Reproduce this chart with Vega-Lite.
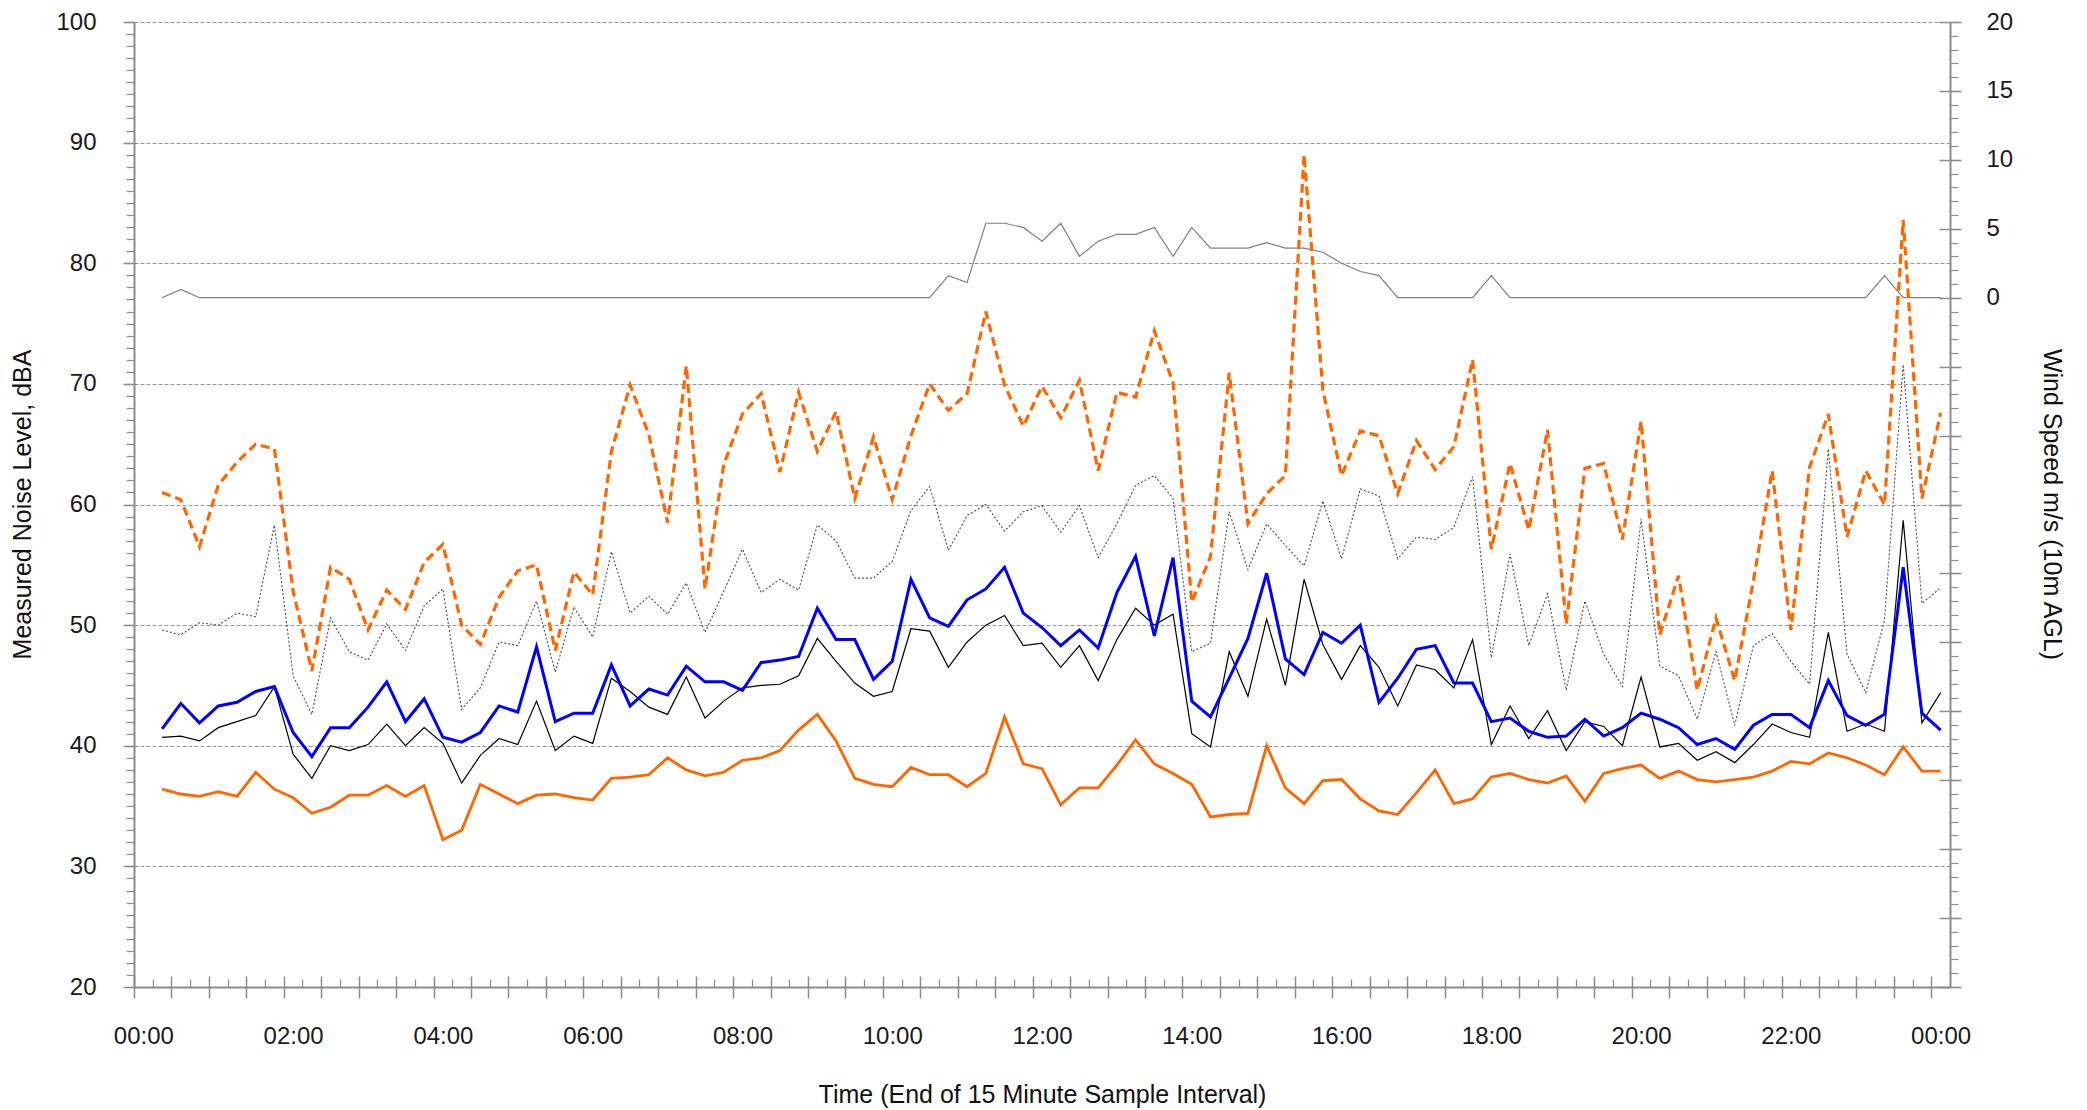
{
  "$schema": "https://vega.github.io/schema/vega-lite/v6.json",
  "autosize": {"type": "none"},
  "width": 1816,
  "height": 965,
  "padding": {"left": 134, "top": 22, "right": 137, "bottom": 123},
  "background": "white",
  "config": {
    "view": {"stroke": null},
    "axis": {"labelFont": "Liberation Sans", "labelFontSize": 24, "labelColor": "#1a1a1a", "titleFont": "Liberation Sans", "titleFontSize": 25, "titleFontWeight": "normal", "titleColor": "#111", "tickColor": "#8c8c8c", "tickWidth": 1.5, "domainColor": "#8c8c8c", "domainWidth": 2}
  },
  "datasets": {
    "d": [
      {"t":15,"LAmax":61.0,"LA1":49.6,"LAeq":41.4,"LA10":40.7,"LA90":36.4,"wind":0},
      {"t":30,"LAmax":60.4,"LA1":49.2,"LAeq":43.5,"LA10":40.8,"LA90":36.0,"wind":0.6},
      {"t":45,"LAmax":56.5,"LA1":50.2,"LAeq":41.9,"LA10":40.4,"LA90":35.8,"wind":0},
      {"t":60,"LAmax":61.6,"LA1":50.0,"LAeq":43.3,"LA10":41.5,"LA90":36.2,"wind":0},
      {"t":75,"LAmax":63.5,"LA1":51.0,"LAeq":43.6,"LA10":42.0,"LA90":35.8,"wind":0},
      {"t":90,"LAmax":65.0,"LA1":50.7,"LAeq":44.5,"LA10":42.5,"LA90":37.8,"wind":0},
      {"t":105,"LAmax":64.6,"LA1":58.3,"LAeq":44.9,"LA10":44.9,"LA90":36.4,"wind":0},
      {"t":120,"LAmax":52.8,"LA1":45.8,"LAeq":41.1,"LA10":39.3,"LA90":35.7,"wind":0},
      {"t":135,"LAmax":46.2,"LA1":42.6,"LAeq":39.1,"LA10":37.3,"LA90":34.4,"wind":0},
      {"t":150,"LAmax":54.8,"LA1":50.6,"LAeq":41.5,"LA10":40.0,"LA90":34.9,"wind":0},
      {"t":165,"LAmax":53.8,"LA1":47.8,"LAeq":41.5,"LA10":39.6,"LA90":35.9,"wind":0},
      {"t":180,"LAmax":49.6,"LA1":47.1,"LAeq":43.2,"LA10":40.1,"LA90":35.9,"wind":0},
      {"t":195,"LAmax":52.9,"LA1":50.1,"LAeq":45.3,"LA10":41.8,"LA90":36.7,"wind":0},
      {"t":210,"LAmax":51.3,"LA1":47.9,"LAeq":42.0,"LA10":40.0,"LA90":35.8,"wind":0},
      {"t":225,"LAmax":55.2,"LA1":51.6,"LAeq":43.9,"LA10":41.5,"LA90":36.7,"wind":0},
      {"t":240,"LAmax":56.7,"LA1":53.0,"LAeq":40.7,"LA10":40.2,"LA90":32.2,"wind":0},
      {"t":255,"LAmax":50.0,"LA1":43.0,"LAeq":40.3,"LA10":36.9,"LA90":33.0,"wind":0},
      {"t":270,"LAmax":48.4,"LA1":44.8,"LAeq":41.1,"LA10":39.2,"LA90":36.8,"wind":0},
      {"t":285,"LAmax":52.3,"LA1":48.6,"LAeq":43.3,"LA10":40.6,"LA90":36.0,"wind":0},
      {"t":300,"LAmax":54.5,"LA1":48.3,"LAeq":42.8,"LA10":40.1,"LA90":35.2,"wind":0},
      {"t":315,"LAmax":55.0,"LA1":52.0,"LAeq":48.2,"LA10":43.7,"LA90":35.9,"wind":0},
      {"t":330,"LAmax":47.9,"LA1":46.1,"LAeq":42.0,"LA10":39.6,"LA90":36.0,"wind":0},
      {"t":345,"LAmax":54.4,"LA1":51.5,"LAeq":42.7,"LA10":40.8,"LA90":35.7,"wind":0},
      {"t":360,"LAmax":52.5,"LA1":49.0,"LAeq":42.7,"LA10":40.2,"LA90":35.5,"wind":0},
      {"t":375,"LAmax":64.4,"LA1":56.1,"LAeq":46.7,"LA10":45.6,"LA90":37.3,"wind":0},
      {"t":390,"LAmax":69.9,"LA1":51.0,"LAeq":43.3,"LA10":44.5,"LA90":37.4,"wind":0},
      {"t":405,"LAmax":65.8,"LA1":52.4,"LAeq":44.7,"LA10":43.2,"LA90":37.6,"wind":0},
      {"t":420,"LAmax":58.5,"LA1":50.9,"LAeq":44.2,"LA10":42.6,"LA90":39.0,"wind":0},
      {"t":435,"LAmax":71.5,"LA1":53.5,"LAeq":46.6,"LA10":45.7,"LA90":38.0,"wind":0},
      {"t":450,"LAmax":53.0,"LA1":49.4,"LAeq":45.3,"LA10":42.3,"LA90":37.5,"wind":0},
      {"t":465,"LAmax":63.3,"LA1":52.8,"LAeq":45.3,"LA10":43.7,"LA90":37.8,"wind":0},
      {"t":480,"LAmax":67.5,"LA1":56.3,"LAeq":44.6,"LA10":44.8,"LA90":38.8,"wind":0},
      {"t":495,"LAmax":69.2,"LA1":52.7,"LAeq":46.9,"LA10":45.0,"LA90":39.0,"wind":0},
      {"t":510,"LAmax":62.7,"LA1":53.8,"LAeq":47.1,"LA10":45.1,"LA90":39.6,"wind":0},
      {"t":525,"LAmax":69.3,"LA1":52.9,"LAeq":47.4,"LA10":45.8,"LA90":41.3,"wind":0},
      {"t":540,"LAmax":64.4,"LA1":58.3,"LAeq":51.4,"LA10":48.9,"LA90":42.6,"wind":0},
      {"t":555,"LAmax":67.7,"LA1":57.0,"LAeq":48.8,"LA10":47.0,"LA90":40.4,"wind":0},
      {"t":570,"LAmax":60.5,"LA1":53.9,"LAeq":48.8,"LA10":45.2,"LA90":37.3,"wind":0},
      {"t":585,"LAmax":65.6,"LA1":53.9,"LAeq":45.5,"LA10":44.1,"LA90":36.8,"wind":0},
      {"t":600,"LAmax":60.4,"LA1":55.3,"LAeq":47.0,"LA10":44.5,"LA90":36.6,"wind":0},
      {"t":615,"LAmax":65.7,"LA1":59.5,"LAeq":53.8,"LA10":49.7,"LA90":38.2,"wind":0},
      {"t":630,"LAmax":70.0,"LA1":61.5,"LAeq":50.6,"LA10":49.5,"LA90":37.6,"wind":0},
      {"t":645,"LAmax":67.8,"LA1":56.2,"LAeq":49.9,"LA10":46.5,"LA90":37.6,"wind":1.6},
      {"t":660,"LAmax":69.2,"LA1":59.1,"LAeq":52.1,"LA10":48.6,"LA90":36.6,"wind":1.1},
      {"t":675,"LAmax":76.0,"LA1":60.0,"LAeq":53.0,"LA10":50.0,"LA90":37.7,"wind":5.4},
      {"t":690,"LAmax":69.9,"LA1":57.8,"LAeq":54.8,"LA10":50.8,"LA90":42.4,"wind":5.4},
      {"t":705,"LAmax":66.5,"LA1":59.4,"LAeq":51.0,"LA10":48.3,"LA90":38.5,"wind":5.1},
      {"t":720,"LAmax":69.8,"LA1":59.9,"LAeq":49.8,"LA10":48.5,"LA90":38.1,"wind":4.1},
      {"t":735,"LAmax":67.2,"LA1":57.7,"LAeq":48.3,"LA10":46.5,"LA90":35.1,"wind":5.4},
      {"t":750,"LAmax":70.3,"LA1":59.9,"LAeq":49.6,"LA10":48.3,"LA90":36.5,"wind":3.0},
      {"t":765,"LAmax":62.8,"LA1":55.6,"LAeq":48.1,"LA10":45.4,"LA90":36.5,"wind":4.1},
      {"t":780,"LAmax":69.3,"LA1":58.4,"LAeq":52.7,"LA10":48.8,"LA90":38.4,"wind":4.6},
      {"t":795,"LAmax":68.9,"LA1":61.6,"LAeq":55.7,"LA10":51.4,"LA90":40.5,"wind":4.6},
      {"t":810,"LAmax":74.4,"LA1":62.4,"LAeq":49.1,"LA10":50.0,"LA90":38.5,"wind":5.1},
      {"t":825,"LAmax":70.1,"LA1":60.5,"LAeq":55.6,"LA10":50.9,"LA90":37.7,"wind":3.0},
      {"t":840,"LAmax":51.9,"LA1":47.8,"LAeq":43.7,"LA10":41.0,"LA90":36.8,"wind":5.1},
      {"t":855,"LAmax":55.7,"LA1":48.5,"LAeq":42.4,"LA10":39.9,"LA90":34.1,"wind":3.6},
      {"t":870,"LAmax":70.9,"LA1":59.4,"LAeq":45.6,"LA10":47.8,"LA90":34.3,"wind":3.6},
      {"t":885,"LAmax":58.4,"LA1":54.6,"LAeq":48.9,"LA10":44.1,"LA90":34.4,"wind":3.6},
      {"t":900,"LAmax":60.9,"LA1":58.4,"LAeq":54.3,"LA10":50.5,"LA90":40.0,"wind":4.0},
      {"t":915,"LAmax":62.4,"LA1":56.6,"LAeq":47.2,"LA10":45.0,"LA90":36.5,"wind":3.6},
      {"t":930,"LAmax":89.0,"LA1":54.9,"LAeq":45.9,"LA10":53.8,"LA90":35.2,"wind":3.6},
      {"t":945,"LAmax":69.5,"LA1":60.3,"LAeq":49.4,"LA10":48.4,"LA90":37.1,"wind":3.3},
      {"t":960,"LAmax":62.4,"LA1":55.5,"LAeq":48.5,"LA10":45.5,"LA90":37.2,"wind":2.5},
      {"t":975,"LAmax":66.1,"LA1":61.3,"LAeq":50.0,"LA10":48.3,"LA90":35.6,"wind":1.9},
      {"t":990,"LAmax":65.7,"LA1":60.7,"LAeq":43.6,"LA10":46.5,"LA90":34.6,"wind":1.6},
      {"t":1005,"LAmax":60.9,"LA1":55.5,"LAeq":45.6,"LA10":43.3,"LA90":34.3,"wind":0},
      {"t":1020,"LAmax":65.3,"LA1":57.3,"LAeq":48.0,"LA10":46.7,"LA90":36.1,"wind":0},
      {"t":1035,"LAmax":62.9,"LA1":57.1,"LAeq":48.3,"LA10":46.3,"LA90":38.0,"wind":0},
      {"t":1050,"LAmax":64.8,"LA1":58.1,"LAeq":45.2,"LA10":44.8,"LA90":35.2,"wind":0},
      {"t":1065,"LAmax":72.0,"LA1":62.3,"LAeq":45.2,"LA10":48.8,"LA90":35.6,"wind":0},
      {"t":1080,"LAmax":56.3,"LA1":47.3,"LAeq":42.0,"LA10":40.1,"LA90":37.4,"wind":1.6},
      {"t":1095,"LAmax":63.4,"LA1":55.9,"LAeq":42.3,"LA10":43.3,"LA90":37.7,"wind":0},
      {"t":1110,"LAmax":57.9,"LA1":48.3,"LAeq":41.2,"LA10":40.6,"LA90":37.2,"wind":0},
      {"t":1125,"LAmax":66.2,"LA1":52.6,"LAeq":40.7,"LA10":42.9,"LA90":36.9,"wind":0},
      {"t":1140,"LAmax":50.1,"LA1":44.6,"LAeq":40.8,"LA10":39.6,"LA90":37.5,"wind":0},
      {"t":1155,"LAmax":63.0,"LA1":52.0,"LAeq":42.2,"LA10":42.0,"LA90":35.4,"wind":0},
      {"t":1170,"LAmax":63.4,"LA1":47.6,"LAeq":40.8,"LA10":41.6,"LA90":37.7,"wind":0},
      {"t":1185,"LAmax":57.1,"LA1":44.9,"LAeq":41.5,"LA10":40.0,"LA90":38.1,"wind":0},
      {"t":1200,"LAmax":66.9,"LA1":58.8,"LAeq":42.7,"LA10":45.7,"LA90":38.4,"wind":0},
      {"t":1215,"LAmax":49.2,"LA1":46.6,"LAeq":42.2,"LA10":39.9,"LA90":37.3,"wind":0},
      {"t":1230,"LAmax":54.1,"LA1":45.8,"LAeq":41.5,"LA10":40.2,"LA90":37.9,"wind":0},
      {"t":1245,"LAmax":44.6,"LA1":42.2,"LAeq":40.1,"LA10":38.8,"LA90":37.2,"wind":0},
      {"t":1260,"LAmax":50.6,"LA1":47.8,"LAeq":40.6,"LA10":39.5,"LA90":37.0,"wind":0},
      {"t":1275,"LAmax":45.4,"LA1":41.7,"LAeq":39.7,"LA10":38.6,"LA90":37.2,"wind":0},
      {"t":1290,"LAmax":53.7,"LA1":48.3,"LAeq":41.7,"LA10":40.1,"LA90":37.4,"wind":0},
      {"t":1305,"LAmax":62.8,"LA1":49.3,"LAeq":42.6,"LA10":41.8,"LA90":37.9,"wind":0},
      {"t":1320,"LAmax":49.6,"LA1":47.0,"LAeq":42.6,"LA10":41.1,"LA90":38.7,"wind":0},
      {"t":1335,"LAmax":63.1,"LA1":45.1,"LAeq":41.5,"LA10":40.7,"LA90":38.5,"wind":0},
      {"t":1350,"LAmax":67.5,"LA1":64.6,"LAeq":45.4,"LA10":49.4,"LA90":39.4,"wind":0},
      {"t":1365,"LAmax":57.3,"LA1":47.6,"LAeq":42.5,"LA10":41.2,"LA90":39.0,"wind":0},
      {"t":1380,"LAmax":62.8,"LA1":44.4,"LAeq":41.7,"LA10":41.8,"LA90":38.4,"wind":0},
      {"t":1395,"LAmax":60.0,"LA1":50.4,"LAeq":42.6,"LA10":41.2,"LA90":37.6,"wind":1.6},
      {"t":1410,"LAmax":83.6,"LA1":71.6,"LAeq":54.8,"LA10":58.7,"LA90":39.9,"wind":0},
      {"t":1425,"LAmax":60.5,"LA1":51.8,"LAeq":42.7,"LA10":41.9,"LA90":37.9,"wind":0},
      {"t":1440,"LAmax":67.6,"LA1":53.1,"LAeq":41.3,"LA10":44.4,"LA90":37.9,"wind":0}
    ]
  },
  "data": {"name": "d"},
  "resolve": {"scale": {"y": "independent"}, "axis": {"x": "independent", "y": "independent"}},
  "layer": [
    {
      "mark": {"type": "line", "color": "#7f7f7f", "strokeWidth": 1.2},
      "encoding": {
        "x": {"field": "t", "type": "quantitative", "scale": {"domain": [-7.5, 1447.5], "nice": false, "zero": false}, "axis": null},
        "y": {"field": "wind", "type": "quantitative", "scale": {"domain": [-50, 20], "nice": false, "zero": false},
          "axis": {"orient": "right", "values": [-50,-45,-40,-35,-30,-25,-20,-15,-10,-5,0,5,10,15,20], "labelExpr": "datum.value >= 0 ? datum.label : ''", "tickSize": 11, "labelPadding": 25, "grid": false, "domain": true, "title": "Wind Speed m/s (10m AGL)", "titleAngle": 90, "titleX": 101, "titleY": 482, "titleAlign": "center", "titleBaseline": "middle"}}
      }
    },
    {
      "mark": {"type": "line", "color": "#7f7f7f", "opacity": 0},
      "encoding": {
        "x": {"field": "t", "type": "quantitative", "scale": {"domain": [-7.5, 1447.5], "nice": false, "zero": false}, "axis": null},
        "y": {"field": "wind", "type": "quantitative", "scale": {"domain": [-50, 20], "nice": false, "zero": false},
          "axis": {"orient": "right", "values": [-50,-45,-40,-35,-30,-25,-20,-15,-10,-5,0,5,10,15,20], "tickSize": -11, "labels": false, "grid": false, "domain": false, "title": null}}
      }
    },
    {
      "mark": {"type": "line", "color": "#7f7f7f", "opacity": 0},
      "encoding": {
        "x": {"field": "t", "type": "quantitative", "scale": {"domain": [-7.5, 1447.5], "nice": false, "zero": false}, "axis": null},
        "y": {"field": "wind", "type": "quantitative", "scale": {"domain": [-50, 20], "nice": false, "zero": false},
          "axis": {"orient": "right", "values": [-50,-49,-48,-47,-46,-45,-44,-43,-42,-41,-40,-39,-38,-37,-36,-35,-34,-33,-32,-31,-30,-29,-28,-27,-26,-25,-24,-23,-22,-21,-20,-19,-18,-17,-16,-15,-14,-13,-12,-11,-10,-9,-8,-7,-6,-5,-4,-3,-2,-1,0,1,2,3,4,5,6,7,8,9,10,11,12,13,14,15,16,17,18,19,20], "tickSize": 8, "tickWidth": 1.2, "labels": false, "grid": false, "domain": false, "title": null}}
      }
    },
    {
      "mark": {"type": "line", "color": "#4d4d4d", "strokeWidth": 1.1, "strokeDash": [2, 2]},
      "encoding": {
        "x": {"field": "t", "type": "quantitative", "scale": {"domain": [-7.5, 1447.5], "nice": false, "zero": false},
          "axis": {"orient": "bottom", "values": [7.5,37.5,67.5,97.5,127.5,157.5,187.5,217.5,247.5,277.5,307.5,337.5,367.5,397.5,427.5,457.5,487.5,517.5,547.5,577.5,607.5,637.5,667.5,697.5,727.5,757.5,787.5,817.5,847.5,877.5,907.5,937.5,967.5,997.5,1027.5,1057.5,1087.5,1117.5,1147.5,1177.5,1207.5,1237.5,1267.5,1297.5,1327.5,1357.5,1387.5,1417.5], "tickSize": -8, "tickWidth": 1.2, "labels": false, "domain": false, "grid": false, "title": null}},
        "y": {"field": "LA1", "type": "quantitative", "scale": {"domain": [20, 100], "nice": false, "zero": false},
          "axis": {"orient": "left", "values": [20,21,22,23,24,25,26,27,28,29,30,31,32,33,34,35,36,37,38,39,40,41,42,43,44,45,46,47,48,49,50,51,52,53,54,55,56,57,58,59,60,61,62,63,64,65,66,67,68,69,70,71,72,73,74,75,76,77,78,79,80,81,82,83,84,85,86,87,88,89,90,91,92,93,94,95,96,97,98,99,100], "tickSize": 8, "tickWidth": 1.2, "labels": false, "grid": false, "domain": false, "title": null}}
      }
    },
    {
      "mark": {"type": "line", "color": "#000000", "strokeWidth": 1.2},
      "encoding": {
        "x": {"field": "t", "type": "quantitative", "scale": {"domain": [-7.5, 1447.5], "nice": false, "zero": false},
          "axis": {"orient": "bottom", "values": [-7.5,22.5,52.5,82.5,112.5,142.5,172.5,202.5,232.5,262.5,292.5,322.5,352.5,382.5,412.5,442.5,472.5,502.5,532.5,562.5,592.5,622.5,652.5,682.5,712.5,742.5,772.5,802.5,832.5,862.5,892.5,922.5,952.5,982.5,1012.5,1042.5,1072.5,1102.5,1132.5,1162.5,1192.5,1222.5,1252.5,1282.5,1312.5,1342.5,1372.5,1402.5,1432.5], "tickSize": -11, "labels": false, "domain": false, "grid": false, "title": null}},
        "y": {"field": "LA10", "type": "quantitative", "scale": {"domain": [20, 100], "nice": false, "zero": false}, "axis": null}
      }
    },
    {
      "mark": {"type": "line", "color": "#FF6600", "strokeWidth": 2.8},
      "encoding": {
        "x": {"field": "t", "type": "quantitative", "scale": {"domain": [-7.5, 1447.5], "nice": false, "zero": false},
          "axis": {"orient": "bottom", "values": [-7.5,22.5,52.5,82.5,112.5,142.5,172.5,202.5,232.5,262.5,292.5,322.5,352.5,382.5,412.5,442.5,472.5,502.5,532.5,562.5,592.5,622.5,652.5,682.5,712.5,742.5,772.5,802.5,832.5,862.5,892.5,922.5,952.5,982.5,1012.5,1042.5,1072.5,1102.5,1132.5,1162.5,1192.5,1222.5,1252.5,1282.5,1312.5,1342.5,1372.5,1402.5,1432.5], "tickSize": 11, "labels": false, "domain": true, "grid": false, "title": null}},
        "y": {"field": "LA90", "type": "quantitative", "scale": {"domain": [20, 100], "nice": false, "zero": false}, "axis": null}
      }
    },
    {
      "mark": {"type": "line", "color": "#0000FF", "strokeWidth": 3},
      "encoding": {
        "x": {"field": "t", "type": "quantitative", "scale": {"domain": [-7.5, 1447.5], "nice": false, "zero": false},
          "axis": {"orient": "bottom", "values": [0,120,240,360,480,600,720,840,960,1080,1200,1320,1440], "labelExpr": "(floor(datum.value/60) % 24 < 10 ? '0' : '') + (floor(datum.value/60) % 24) + ':00'", "ticks": false, "labelPadding": 37, "labelFlush": false, "labelOverlap": false, "domain": false, "grid": false, "title": "Time (End of 15 Minute Sample Interval)", "titleX": 908, "titleY": 107, "titleAlign": "center", "titleBaseline": "middle"}},
        "y": {"field": "LAeq", "type": "quantitative", "scale": {"domain": [20, 100], "nice": false, "zero": false}, "axis": null}
      }
    },
    {
      "mark": {"type": "line", "color": "#FF6600", "strokeWidth": 3.2, "strokeDash": [9, 5]},
      "encoding": {
        "x": {"field": "t", "type": "quantitative", "scale": {"domain": [-7.5, 1447.5], "nice": false, "zero": false}, "axis": null},
        "y": {"field": "LAmax", "type": "quantitative", "scale": {"domain": [20, 100], "nice": false, "zero": false},
          "axis": {"orient": "left", "values": [20,30,40,50,60,70,80,90,100], "tickSize": 11, "labelPadding": 27, "labelOverlap": false, "labelFlush": false, "grid": true, "gridColor": "#999999", "gridDash": [4, 2], "gridWidth": 1.2, "domain": true, "title": "Measured Noise Level, dBA", "titleAngle": -90, "titleX": -112, "titleY": 482, "titleAlign": "center", "titleBaseline": "middle"}}
      }
    }
  ]
}
